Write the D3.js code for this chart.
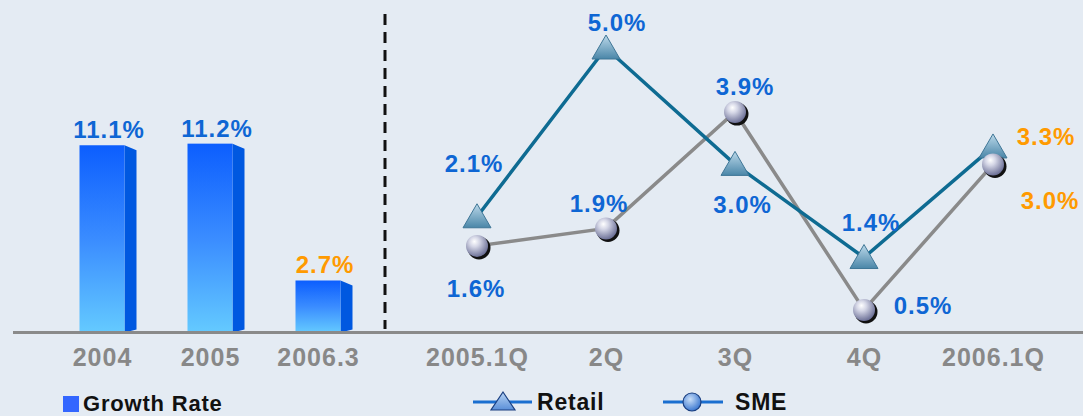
<!DOCTYPE html>
<html>
<head>
<meta charset="utf-8">
<script src="https://cdn.jsdelivr.net/npm/d3@7"></script>
<style>
  html, body { margin: 0; padding: 0; background: #e4ebf3; }
  svg { display: block; }
  text { font-family: "Liberation Sans", Arial, sans-serif; font-weight: bold; }
</style>
</head>
<body>
<svg id="chart" width="1083" height="416"></svg>
<script>
// ---- data ----
const barCategories = ["2004", "2005", "2006.3"];
const growthRate = [11.1, 11.2, 2.7];

const quarterCategories = ["2005.1Q", "2Q", "3Q", "4Q", "2006.1Q"];
const retail = [2.1, 5.0, 3.0, 1.4, 3.3];
const sme = [1.6, 1.9, 3.9, 0.5, 3.0];

const legendGrowth = "Growth Rate";
const legendRetail = "Retail";
const legendSME = "SME";

// ---- layout (label offsets relative to points) ----
const retailLabelOffsets = [[-3, -45], [11, -17], [7.5, 49], [7, -27], [53, -2]];
const smeLabelOffsets = [[-1, 51], [-7, -16], [10, -17], [59, 4], [57, 45]];

const W = 1083, H = 416;
const baseY = 332.5;
const blue = "#0e66d4", orange = "#ff9a00", axisGray = "#888888";

const svg = d3.select("#chart");
svg.append("rect").attr("width", W).attr("height", H).attr("fill", "#e4ebf3");

const defs = svg.append("defs");
const gBar = defs.append("linearGradient").attr("id", "barFront")
  .attr("x1", 0).attr("y1", 0).attr("x2", 0).attr("y2", 1);
gBar.append("stop").attr("offset", "0%").attr("stop-color", "#0c5efe");
gBar.append("stop").attr("offset", "50%").attr("stop-color", "#3a8cff");
gBar.append("stop").attr("offset", "100%").attr("stop-color", "#64caff");

const gTri = defs.append("linearGradient").attr("id", "triGrad")
  .attr("x1", 0).attr("y1", 0).attr("x2", 0).attr("y2", 1);
gTri.append("stop").attr("offset", "0%").attr("stop-color", "#bcd9ea");
gTri.append("stop").attr("offset", "100%").attr("stop-color", "#4a86a8");

const gSph = defs.append("radialGradient").attr("id", "sphGrad")
  .attr("cx", "40%").attr("cy", "35%").attr("r", "65%").attr("fx", "38%").attr("fy", "30%");
gSph.append("stop").attr("offset", "0%").attr("stop-color", "#ffffff");
gSph.append("stop").attr("offset", "35%").attr("stop-color", "#d4d6e6");
gSph.append("stop").attr("offset", "100%").attr("stop-color", "#6e7298");

const gLegTri = defs.append("linearGradient").attr("id", "legTri")
  .attr("x1", 0).attr("y1", 0).attr("x2", 0).attr("y2", 1);
gLegTri.append("stop").attr("offset", "0%").attr("stop-color", "#b8d4f4");
gLegTri.append("stop").attr("offset", "100%").attr("stop-color", "#5a8fd8");

const gLegCirc = defs.append("radialGradient").attr("id", "legCirc")
  .attr("cx", "40%").attr("cy", "35%").attr("r", "65%");
gLegCirc.append("stop").attr("offset", "0%").attr("stop-color", "#c8def8");
gLegCirc.append("stop").attr("offset", "100%").attr("stop-color", "#3c78d0");

// ---- left: bar chart ----
const xBar = d3.scalePoint().domain(barCategories).range([102, 318]);
const yBar = d3.scaleLinear().domain([-0.53, 12]).range([baseY, baseY - 16.1 * 12.53]);
const barW = 45, sideW = 12;

const bars = svg.append("g").selectAll("g").data(growthRate).join("g");
bars.append("path")
  .attr("d", (d, i) => {
    const x1 = xBar(barCategories[i]) + barW / 2, t = yBar(d);
    return `M${x1},${t} L${x1 + sideW},${t + 5} L${x1 + sideW},${baseY - 3} L${x1},${baseY} Z`;
  })
  .attr("fill", "#0058e0");
bars.append("rect")
  .attr("x", (d, i) => xBar(barCategories[i]) - barW / 2)
  .attr("y", d => yBar(d))
  .attr("width", barW)
  .attr("height", d => baseY - yBar(d))
  .attr("fill", "url(#barFront)");
bars.append("text")
  .attr("x", (d, i) => xBar(barCategories[i]) + 7)
  .attr("y", d => yBar(d) - 7)
  .attr("text-anchor", "middle")
  .attr("font-size", 24).attr("letter-spacing", 1)
  .attr("fill", (d, i) => i === growthRate.length - 1 ? orange : blue)
  .text(d => d.toFixed(1) + "%");

const axBar = svg.append("g").attr("transform", `translate(0,${baseY})`)
  .call(d3.axisBottom(xBar).tickSize(0).tickPadding(16));
axBar.select(".domain").remove();
axBar.selectAll("text").attr("font-size", 25).attr("letter-spacing", 1)
  .attr("fill", axisGray).attr("font-family", "Liberation Sans, Arial, sans-serif").attr("font-weight", "bold");

// ---- baseline & divider ----
svg.append("line").attr("x1", 13).attr("x2", W).attr("y1", baseY).attr("y2", baseY)
  .attr("stroke", "#8a8a8a").attr("stroke-width", 3);
svg.append("line").attr("x1", 385).attr("x2", 385).attr("y1", 14).attr("y2", 329)
  .attr("stroke", "#111").attr("stroke-width", 3).attr("stroke-dasharray", "11,7");

// ---- right: line chart ----
const xQ = d3.scalePoint().domain(quarterCategories).range([477, 993]);
const yQ = d3.scaleLinear().domain([0, 5]).range([339, 48]);

const line = d3.line().x((d, i) => xQ(quarterCategories[i])).y(d => yQ(d));

svg.append("path").datum(sme).attr("d", line)
  .attr("fill", "none").attr("stroke", "#8a8a8a").attr("stroke-width", 3.5);
svg.append("path").datum(retail).attr("d", line)
  .attr("fill", "none").attr("stroke", "#0e6b92").attr("stroke-width", 3.5);

// triangles
svg.append("g").selectAll("path").data(retail).join("path")
  .attr("d", (d, i) => {
    const x = xQ(quarterCategories[i]), y = yQ(d);
    return `M${x},${y - 13} L${x + 14},${y + 11} L${x - 14},${y + 11} Z`;
  })
  .attr("fill", "url(#triGrad)").attr("stroke", "#3f7696").attr("stroke-width", 1);

// spheres
const sph = svg.append("g").selectAll("g").data(sme).join("g")
  .attr("transform", (d, i) => `translate(${xQ(quarterCategories[i])},${yQ(d)})`);
sph.append("circle").attr("cx", 2).attr("cy", 2).attr("r", 11.5).attr("fill", "#111");
sph.append("circle").attr("r", 11).attr("fill", "url(#sphGrad)");

// value labels
svg.append("g").selectAll("text").data(retail).join("text")
  .attr("x", (d, i) => xQ(quarterCategories[i]) + retailLabelOffsets[i][0])
  .attr("y", (d, i) => yQ(d) + retailLabelOffsets[i][1])
  .attr("text-anchor", "middle").attr("font-size", 24).attr("letter-spacing", 1)
  .attr("fill", (d, i) => i === retail.length - 1 ? orange : blue)
  .text(d => d.toFixed(1) + "%");
svg.append("g").selectAll("text").data(sme).join("text")
  .attr("x", (d, i) => xQ(quarterCategories[i]) + smeLabelOffsets[i][0])
  .attr("y", (d, i) => yQ(d) + smeLabelOffsets[i][1])
  .attr("text-anchor", "middle").attr("font-size", 24).attr("letter-spacing", 1)
  .attr("fill", (d, i) => i === sme.length - 1 ? orange : blue)
  .text(d => d.toFixed(1) + "%");

const axQ = svg.append("g").attr("transform", `translate(0,${baseY})`)
  .call(d3.axisBottom(xQ).tickSize(0).tickPadding(16));
axQ.select(".domain").remove();
axQ.selectAll("text").attr("font-size", 25).attr("letter-spacing", 1)
  .attr("fill", axisGray).attr("font-family", "Liberation Sans, Arial, sans-serif").attr("font-weight", "bold");

// ---- legends ----
svg.append("rect").attr("x", 63).attr("y", 396).attr("width", 16).attr("height", 16).attr("fill", "#3366ff");
svg.append("text").attr("x", 83).attr("y", 411).attr("font-size", 22).attr("letter-spacing", 0.8)
  .attr("fill", "#111").text(legendGrowth);

const lr = svg.append("g");
lr.append("line").attr("x1", 473).attr("x2", 532).attr("y1", 402).attr("y2", 402)
  .attr("stroke", "#1a6fd0").attr("stroke-width", 3);
lr.append("path").attr("d", "M503,392 L515,410 L491,410 Z")
  .attr("fill", "url(#legTri)").attr("stroke", "#1a3f80").attr("stroke-width", 1.2);
lr.append("text").attr("x", 537).attr("y", 410).attr("font-size", 23).attr("letter-spacing", 0.8)
  .attr("fill", "#111").text(legendRetail);

lr.append("line").attr("x1", 663).attr("x2", 723).attr("y1", 402).attr("y2", 402)
  .attr("stroke", "#1a6fd0").attr("stroke-width", 3);
lr.append("circle").attr("cx", 692).attr("cy", 402).attr("r", 9)
  .attr("fill", "url(#legCirc)").attr("stroke", "#1a3f80").attr("stroke-width", 1.2);
lr.append("text").attr("x", 735).attr("y", 410).attr("font-size", 23).attr("letter-spacing", 0.8)
  .attr("fill", "#111").text(legendSME);
</script>
</body>
</html>
